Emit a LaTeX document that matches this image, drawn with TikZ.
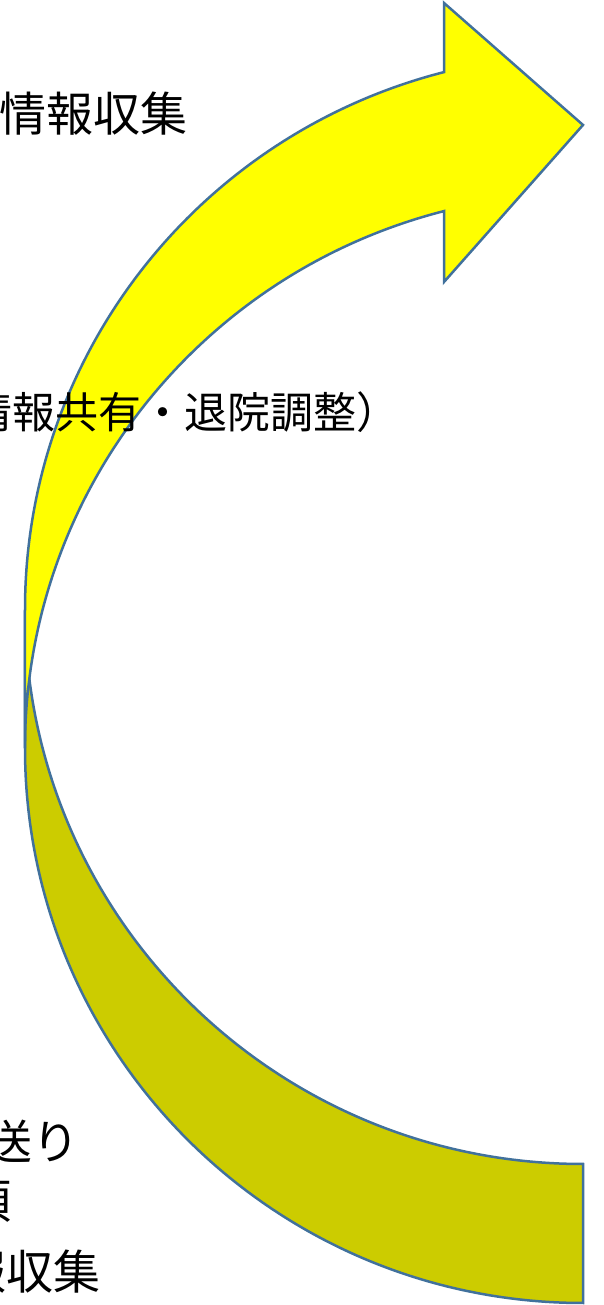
\documentclass[tikz,border=0pt]{standalone}
\usepackage{fontspec}
\newfontfamily\jpfont{Noto Sans CJK JP}
\definecolor{arrow-line}{RGB}{65,113,156}
\definecolor{arrow-front}{RGB}{255,255,0}
\definecolor{arrow-back}{RGB}{204,204,0}

\begin{document}
\begin{tikzpicture}[x=1pt,y=1pt,
		front/.style={fill=arrow-front,draw=arrow-line,line width=2.5pt},
		back/.style={fill=arrow-back,draw=arrow-line,line width=2.5pt},
		big/.style={inner sep=0pt,anchor=base east,font=\jpfont\fontsize{47}{56}\selectfont},
		mid/.style={inner sep=0pt,anchor=base east,font=\jpfont\fontsize{43}{52}\selectfont}]
		\useasboundingbox (0,0) rectangle (603,1305);

		% Back of the curved arrow, darker
		\draw[back] (583,2) arc[start angle=270,end angle=180,x radius=558pt,y radius=554.7pt]
			-- (25,695.7) arc[start angle=180,end angle=270,x radius=558pt,y radius=554.7pt] -- cycle;

		% Front of the curved arrow with its head
		\draw[front] (25,695.7) arc[start angle=180,end angle=104.42,x radius=558pt,y radius=554.7pt]
			-- (444,1302) -- (583,1180) -- (444,1023) -- (444,1093.9)
			arc[start angle=104.42,end angle=180,x radius=558pt,y radius=554.7pt] -- cycle;

		% Labels, cut off at the left edge
		\node[big] (collect) at (188,1173) {情報収集};
		\node[mid] (share) at (400,876) {情報共有・退院調整）};
		\node[big] (handover) at (80,145) {送り};
		\node[big] (item) at (12,86) {項};
		\node[big] (recollect) at (101,15) {報収集};
	
	\end{tikzpicture}
\end{document}
